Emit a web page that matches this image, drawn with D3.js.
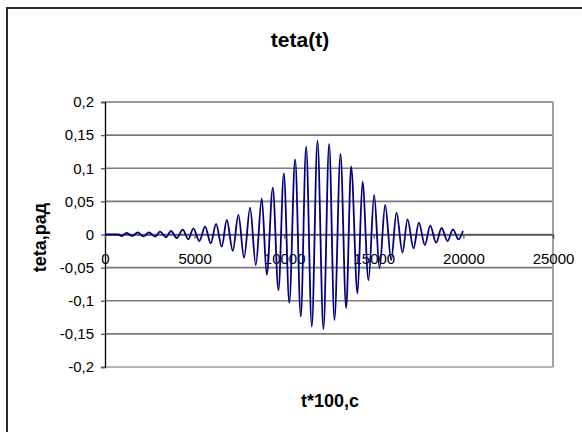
<!DOCTYPE html>
<html>
<head>
<meta charset="utf-8">
<script src="https://cdn.jsdelivr.net/npm/d3@7/dist/d3.min.js"></script>
<style>
  html, body { margin: 0; padding: 0; background: #fff; }
  svg { display: block; font-family: Arial, "Liberation Sans", sans-serif; }
</style>
</head>
<body>
<svg id="chart" width="582" height="432"></svg>
<script>
// ---- data (t*100 units, radians) ----
const times = [
  0, 750, 932, 1210, 1525, 1824, 2140, 2457, 2792, 3071, 3406, 3685, 4003, 4338,
  4653, 4931, 5267, 5584, 5902, 6198, 6516, 6796, 7130, 7444, 7762, 8097, 8414,
  8749, 9027, 9363, 9679, 9980, 10285, 10610, 10925, 11224, 11540, 11857, 12190,
  12508, 12804, 13141, 13457, 13737, 14090, 14370, 14704, 15021, 15318, 15635,
  15970, 16267, 16601, 16881, 17216, 17514, 17849, 18148, 18483, 18780, 19115,
  19414, 19729, 19975
];
const theta = [
  0, 0, -0.0023, 0.0023, -0.0023, 0.0033, -0.0027, 0.0033, -0.0033, 0.0042, -0.0042,
  0.0053, -0.0053, 0.0073, -0.0073, 0.0093, -0.0098, 0.0118, -0.0133, 0.0159,
  -0.0184, 0.0219, -0.0245, 0.0295, -0.035, 0.0405, -0.046, 0.0546, -0.061, 0.0707,
  -0.084, 0.0924, -0.103, 0.1135, -0.124, 0.1326, -0.139, 0.1417, -0.143, 0.1367,
  -0.129, 0.1216, -0.111, 0.1024, -0.089, 0.0797, -0.069, 0.0596, -0.051, 0.0445,
  -0.0385, 0.0330, -0.0275, 0.0229, -0.021, 0.0178, -0.016, 0.0133, -0.0124,
  0.0098, -0.0098, 0.0078, -0.0073, 0.0053
];
const xTicks = [0, 5000, 10000, 15000, 20000, 25000];
const yTicks = [0.2, 0.15, 0.1, 0.05, 0, -0.05, -0.1, -0.15, -0.2];
const yTickLabels = ["0,2", "0,15", "0,1", "0,05", "0", "-0,05", "-0,1", "-0,15", "-0,2"];
const titleText = "teta(t)";
const xTitle = "t*100,c";
const yTitle = "teta,рад";

// ---- layout ----
const svg = d3.select("#chart");
const L = 105, R = 553, T = 102, B = 367;
const x = d3.scaleLinear().domain([0, 25000]).range([L, R]);
const y = d3.scaleLinear().domain([-0.2, 0.2]).range([B, T]);

// outer chart border
svg.append("rect").attr("x", 7).attr("y", 8).attr("width", 600).attr("height", 450)
  .attr("fill", "#fff").attr("stroke", "#2a2a2a").attr("stroke-width", 2);

// gridlines
svg.append("g").selectAll("line").data(yTicks).join("line")
  .attr("x1", L).attr("x2", R)
  .attr("y1", d => y(d)).attr("y2", d => y(d))
  .attr("stroke", d => (d === -0.2 ? "#a0a0a0" : "#7a7a7a"))
  .attr("stroke-width", 1.6);

// right plot border
svg.append("line").attr("x1", R).attr("x2", R).attr("y1", T).attr("y2", B)
  .attr("stroke", "#a0a0a0").attr("stroke-width", 2);

// y axis
const yAxis = d3.axisLeft(y).tickValues(yTicks).tickSize(4)
  .tickFormat((d, i) => yTickLabels[i]).tickPadding(7);
const gy = svg.append("g").attr("transform", `translate(${L},0)`).call(yAxis);
gy.select(".domain").attr("stroke", "#000").attr("stroke-width", 1.3);
gy.selectAll(".tick line").attr("stroke", "#555").attr("stroke-width", 1.3);
gy.selectAll(".tick text").attr("font-size", 15).attr("fill", "#000")
  .attr("font-family", "Arial, 'Liberation Sans', sans-serif");

// x axis along zero
const xAxis = d3.axisBottom(x).tickValues(xTicks).tickSize(4)
  .tickFormat(d3.format("d")).tickPadding(15);
const gx = svg.append("g").attr("transform", `translate(0,${y(0)})`).call(xAxis);
gx.select(".domain").attr("stroke", "#555").attr("stroke-width", 1.3);
gx.selectAll(".tick line").attr("stroke", "#555").attr("stroke-width", 1.3);
gx.selectAll(".tick text").attr("font-size", 15).attr("fill", "#000")
  .attr("font-family", "Arial, 'Liberation Sans', sans-serif");

// data line
const pts = times.map((t, i) => [t, theta[i]]);
svg.append("path").datum(pts)
  .attr("fill", "none").attr("stroke", "#000080").attr("stroke-width", 1.8)
  .attr("stroke-linejoin", "round")
  .attr("d", d3.line().x(d => x(d[0])).y(d => y(d[1])).curve(d3.curveMonotoneX));

// titles
svg.append("text").attr("x", 300).attr("y", 47).attr("text-anchor", "middle")
  .attr("font-size", 21).attr("font-weight", "bold").text(titleText);
svg.append("text").attr("x", 330).attr("y", 407).attr("text-anchor", "middle")
  .attr("font-size", 18).attr("font-weight", "bold").text(xTitle);
svg.append("text").attr("transform", "translate(46,237.5) rotate(-90)")
  .attr("text-anchor", "middle")
  .attr("font-size", 18).attr("font-weight", "bold").text(yTitle);
</script>
</body>
</html>
